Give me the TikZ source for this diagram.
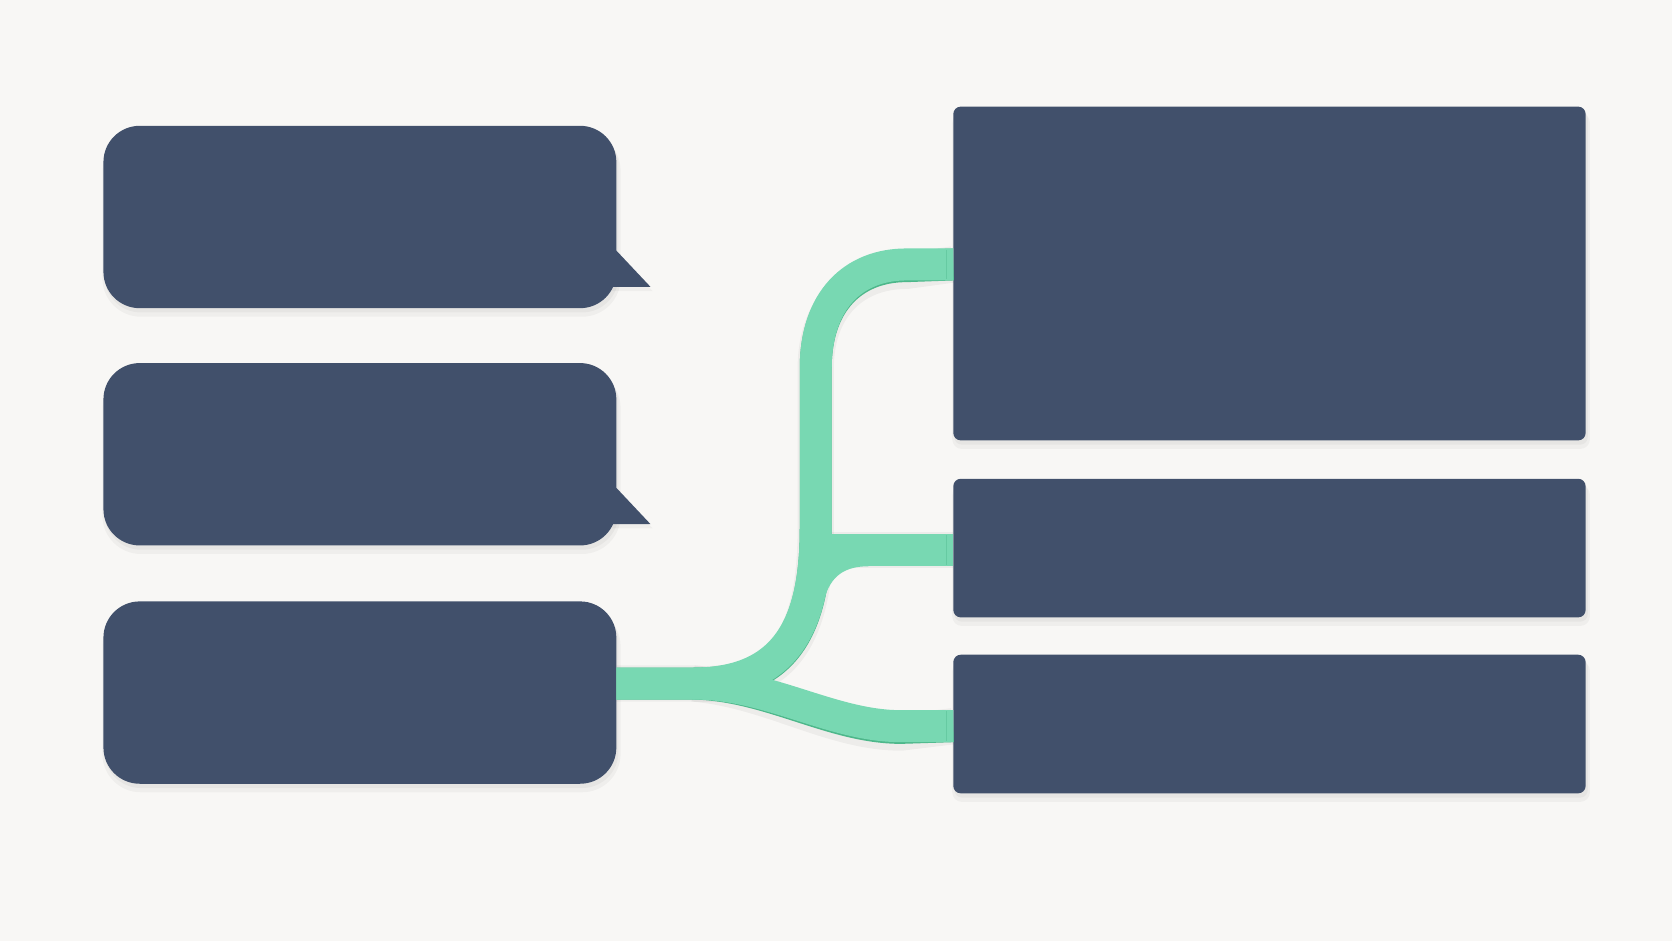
\documentclass[tikz,border=0pt]{standalone}
\usetikzlibrary{calc}
\definecolor{bgc}{HTML}{F8F7F5}
\definecolor{boxc}{HTML}{41506B}
\definecolor{wirec}{HTML}{78D8B2}
\definecolor{wiredark}{HTML}{4DB78A}
\pgfdeclarelayer{back}
\pgfdeclarelayer{shadow}
\pgfsetlayers{back,shadow,main}
\tikzset{
  lbox/.style={rectangle, rounded corners=34pt, fill=boxc, minimum width=481pt, minimum height=171pt, inner sep=0pt, outer sep=0pt},
  rbox/.style={rectangle, rounded corners=7pt, fill=boxc, minimum width=593pt, inner sep=0pt, outer sep=0pt},
  wire/.style={line width=30pt, draw=wirec},
  wireedge/.style={line width=30pt, draw=wiredark, yshift=-1.6pt},
  wireshadow/.style={line width=34pt, draw=black, opacity=0.045, yshift=-6pt},
  shade1/.style={fill=black, opacity=0.035},
}
\begin{document}
\begin{tikzpicture}[x=1pt,y=-1pt]
\begin{pgfonlayer}{back}
\fill[bgc] (0,0) rectangle (1568,882);
\end{pgfonlayer}
\useasboundingbox (0,0) rectangle (1568,882);

% boxes
\node[lbox] (L1) at (337.5,203.5) {};
\node[lbox] (L2) at (337.5,426) {};
\node[lbox] (L3) at (337.5,649.5) {};
\node[rbox, minimum height=313pt] (R1) at (1190.5,256.5) {};
\node[rbox, minimum height=130pt] (R2) at (1190.5,514) {};
\node[rbox, minimum height=130pt] (R3) at (1190.5,679) {};

% speech tails
\foreach \b in {L1,L2}{
  \fill[boxc] ($(\b.south east)+(0,-54)$) -- ($(\b.south east)+(32,-20)$) -- ($(\b.south east)+(-6,-20)$) -- ($(\b.south east)+(-20,-30)$) -- ($(\b.south east)+(-20,-54)$) -- cycle;
}

% shadows
\begin{pgfonlayer}{shadow}
\foreach \b in {L1,L2,L3}{
  \fill[shade1, rounded corners=34pt] ($(\b.south west)+(1,4)$) rectangle ($(\b.north east)+(2,4)$);
  \fill[shade1, rounded corners=36pt] ($(\b.south west)+(-1,8)$) rectangle ($(\b.north east)+(4,6)$);
}
\foreach \b in {L1,L2}{
  \fill[shade1] ($(\b.south east)+(2,-50)$) -- ($(\b.south east)+(34,-16)$) -- ($(\b.south east)+(-4,-16)$) -- cycle;
}
\foreach \b in {R1,R2,R3}{
  \fill[shade1, rounded corners=7pt] ($(\b.south west)+(1,4)$) rectangle ($(\b.north east)+(2,4)$);
  \fill[shade1, rounded corners=9pt] ($(\b.south west)+(-1,8)$) rectangle ($(\b.north east)+(4,6)$);
}
\end{pgfonlayer}

% connector points
\coordinate (a)  at ($(L3.east)+(0,-8.5)$);
\coordinate (b1) at ($(R1.west)+(0,-8.5)$);
\coordinate (b2) at ($(R2.west)+(0,2)$);
\coordinate (b3) at ($(R3.west)+(0,2)$);
\coordinate (j)  at (650,641);
\coordinate (tb) at (765,495);
\coordinate (tt) at (765,345);
\coordinate (tj) at (765,516);

\begin{pgfonlayer}{shadow}
  \draw[wireshadow] (a) -- (j) .. controls (738,641) and (765,585) .. (tb) -- (tt) .. controls (765,282) and (800,248) .. (850,248) -- (b1);
  \draw[wireshadow] (tj) -- (b2);
  \draw[wireshadow] (j) .. controls (722,641) and (780,681) .. (845,681) -- (b3);
\end{pgfonlayer}

\foreach \s in {wireedge,wire}{
  \draw[\s] (a) -- (j) .. controls (738,641) and (765,585) .. (tb) -- (tt) .. controls (765,282) and (800,248) .. (850,248) -- (b1);
  \draw[\s] (tj) -- (b2);
  \draw[\s] (j) .. controls (722,641) and (780,681) .. (845,681) -- (b3);
}
% fillet under the middle branch
\fill[wirec] (760,520) -- (815,520) -- (815,531) .. controls (792,531) and (779,540) .. (773,562) -- (760,562) -- cycle;
% end stubs
\foreach \e in {b1,b2,b3}{
  \draw[wiredark, opacity=0.4, line width=1pt] ($(\e)+(-6,-14)$) -- ($(\e)+(-6,14)$);
}
\end{tikzpicture}
\end{document}
